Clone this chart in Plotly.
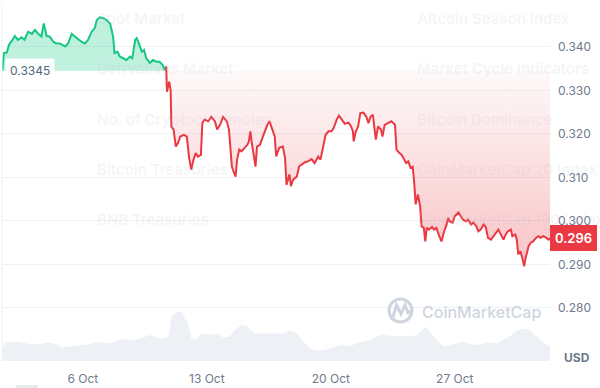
import numpy as np
import pandas as pd
import plotly.graph_objects as go

YEAR = "2025"

price_times = [
    "10-01 11", "10-01 13", "10-01 17", "10-01 20", "10-01 23", "10-02 04", "10-02 08", "10-02 13",
    "10-02 17", "10-02 22", "10-03 03", "10-03 07", "10-03 11", "10-03 16", "10-03 19", "10-03 23",
    "10-04 03", "10-04 08", "10-04 12", "10-04 17", "10-05 00", "10-05 04", "10-05 09", "10-05 13",
    "10-05 18", "10-05 22", "10-06 03", "10-06 07", "10-06 12", "10-06 16", "10-06 19", "10-06 23",
    "10-07 04", "10-07 08", "10-07 13", "10-07 17", "10-07 19", "10-07 23", "10-08 02", "10-08 07",
    "10-08 11", "10-08 16", "10-08 19", "10-08 23", "10-09 01", "10-09 04", "10-09 08", "10-09 11",
    "10-09 14", "10-09 19", "10-09 23", "10-10 04", "10-10 08", "10-10 12", "10-10 15", "10-10 17",
    "10-10 18", "10-10 21", "10-10 23", "10-11 00", "10-11 03", "10-11 06", "10-11 09", "10-11 12",
    "10-11 17", "10-11 21", "10-12 00", "10-12 03", "10-12 06", "10-12 09", "10-12 12", "10-12 16",
    "10-12 18", "10-12 21", "10-13 02", "10-13 06", "10-13 11", "10-13 14", "10-13 18", "10-13 22",
    "10-14 03", "10-14 06", "10-14 10", "10-14 13", "10-14 15", "10-14 17", "10-14 20", "10-14 23",
    "10-15 04", "10-15 07", "10-15 09", "10-15 11", "10-15 13", "10-15 16", "10-15 18", "10-15 20",
    "10-16 00", "10-16 04", "10-16 07", "10-16 10", "10-16 13", "10-16 17", "10-16 20", "10-16 22",
    "10-17 02", "10-17 07", "10-17 10", "10-17 12", "10-17 16", "10-17 18", "10-17 21", "10-18 02",
    "10-18 05", "10-18 08", "10-18 13", "10-18 17", "10-18 22", "10-19 02", "10-19 07", "10-19 10",
    "10-19 14", "10-19 17", "10-19 21", "10-20 01", "10-20 04", "10-20 08", "10-20 11", "10-20 15",
    "10-20 19", "10-21 00", "10-21 03", "10-21 06", "10-21 07", "10-21 10", "10-21 13", "10-21 16",
    "10-21 20", "10-22 00", "10-22 03", "10-22 06", "10-22 09", "10-22 13", "10-22 16", "10-22 20",
    "10-22 22", "10-23 01", "10-23 06", "10-23 10", "10-23 15", "10-23 17", "10-23 21", "10-24 00",
    "10-24 06", "10-24 09", "10-24 12", "10-24 15", "10-24 17", "10-24 19", "10-24 22", "10-25 01",
    "10-25 03", "10-25 06", "10-25 08", "10-25 10", "10-25 13", "10-25 17", "10-25 20", "10-25 23",
    "10-26 03", "10-26 06", "10-26 09", "10-26 13", "10-26 15", "10-26 17", "10-26 21", "10-27 00",
    "10-27 05", "10-27 08", "10-27 11", "10-27 15", "10-27 18", "10-27 22", "10-28 01", "10-28 05",
    "10-28 08", "10-28 11", "10-28 15", "10-28 18", "10-28 21", "10-29 01", "10-29 04", "10-29 08",
    "10-29 11", "10-29 14", "10-29 18", "10-29 21", "10-30 00", "10-30 04", "10-30 06", "10-30 10",
    "10-30 12", "10-30 14", "10-30 17", "10-30 20", "10-30 22", "10-31 00", "10-31 04", "10-31 07",
    "10-31 10", "10-31 14", "10-31 17", "10-31 20", "11-01 00", "11-01 04", "11-01 07", "11-01 09",
]

prices = [
    0.3345, 0.3386, 0.3387, 0.3405, 0.3412, 0.3425, 0.3416, 0.3422,
    0.3416, 0.3435, 0.3430, 0.3439, 0.3431, 0.3424, 0.3454, 0.3425,
    0.3424, 0.3412, 0.3408, 0.3408, 0.3401, 0.3408, 0.3430, 0.3424,
    0.3416, 0.3412, 0.3408, 0.3416, 0.3435, 0.3443, 0.3462, 0.3468,
    0.3466, 0.3462, 0.3454, 0.3424, 0.3386, 0.3389, 0.3378, 0.3374,
    0.3370, 0.3378, 0.3374, 0.3416, 0.3420, 0.3408, 0.3389, 0.3393,
    0.3374, 0.3363, 0.3370, 0.3366, 0.3366, 0.3359, 0.3347, 0.3355,
    0.3297, 0.3320, 0.3301, 0.3217, 0.3210, 0.3171, 0.3179, 0.3194,
    0.3198, 0.3194, 0.3145, 0.3118, 0.3141, 0.3156, 0.3148, 0.3152,
    0.3225, 0.3233, 0.3229, 0.3239, 0.3229, 0.3210, 0.3221, 0.3239,
    0.3229, 0.3210, 0.3125, 0.3110, 0.3102, 0.3141, 0.3164, 0.3160,
    0.3171, 0.3175, 0.3183, 0.3206, 0.3179, 0.3148, 0.3125, 0.3171,
    0.3175, 0.3194, 0.3210, 0.3221, 0.3229, 0.3206, 0.3194, 0.3148,
    0.3168, 0.3171, 0.3145, 0.3083, 0.3107, 0.3080, 0.3095, 0.3102,
    0.3125, 0.3129, 0.3135, 0.3137, 0.3142, 0.3133, 0.3148, 0.3141,
    0.3171, 0.3198, 0.3206, 0.3206, 0.3214, 0.3233, 0.3242, 0.3233,
    0.3223, 0.3226, 0.3219, 0.3206, 0.3183, 0.3206, 0.3217, 0.3248,
    0.3249, 0.3240, 0.3225, 0.3240, 0.3244, 0.3187, 0.3217, 0.3210,
    0.3194, 0.3221, 0.3225, 0.3229, 0.3221, 0.3164, 0.3156, 0.3152,
    0.3133, 0.3137, 0.3122, 0.3125, 0.3088, 0.3038, 0.3061, 0.3034,
    0.2988, 0.2984, 0.2953, 0.2984, 0.2980, 0.2986, 0.2980, 0.2984,
    0.2965, 0.2953, 0.2973, 0.2992, 0.3007, 0.2999, 0.2996, 0.3011,
    0.3019, 0.3011, 0.3003, 0.2999, 0.3003, 0.2992, 0.2996, 0.2988,
    0.2976, 0.2980, 0.2992, 0.2986, 0.2961, 0.2957, 0.2965, 0.2973,
    0.2980, 0.2969, 0.2957, 0.2969, 0.2976, 0.2980, 0.2965, 0.2969,
    0.2957, 0.2923, 0.2930, 0.2911, 0.2896, 0.2915, 0.2942, 0.2950,
    0.2953, 0.2961, 0.2965, 0.2961, 0.2965, 0.2961, 0.2957, 0.2960,
]

volume_times = [
    "10-01 11", "10-01 17", "10-02 02", "10-02 11", "10-02 20", "10-03 05", "10-03 14", "10-04 01",
    "10-04 12", "10-04 21", "10-05 06", "10-05 16", "10-06 00", "10-06 10", "10-06 19", "10-07 04",
    "10-07 13", "10-07 22", "10-08 07", "10-08 16", "10-09 01", "10-09 10", "10-09 19", "10-10 04",
    "10-10 13", "10-10 20", "10-11 00", "10-11 07", "10-11 14", "10-11 18", "10-11 23", "10-12 03",
    "10-12 10", "10-12 17", "10-13 00", "10-13 09", "10-13 15", "10-13 22", "10-14 07", "10-14 14",
    "10-14 23", "10-15 06", "10-15 13", "10-15 19", "10-16 04", "10-16 13", "10-16 22", "10-17 08",
    "10-17 17", "10-18 02", "10-18 11", "10-18 20", "10-19 05", "10-19 14", "10-19 23", "10-20 08",
    "10-20 17", "10-21 02", "10-21 11", "10-21 20", "10-22 05", "10-22 14", "10-22 23", "10-23 08",
    "10-23 17", "10-24 02", "10-24 11", "10-24 20", "10-25 03", "10-25 08", "10-25 12", "10-25 19",
    "10-26 02", "10-26 08", "10-26 17", "10-27 03", "10-27 11", "10-27 21", "10-28 06", "10-28 15",
    "10-29 00", "10-29 09", "10-29 18", "10-30 03", "10-30 12", "10-30 21", "10-31 04", "10-31 10",
    "10-31 17", "11-01 00", "11-01 09",
]

volumes_musd = [
    29, 37, 39, 37, 34, 33, 34, 37,
    34, 27, 29, 30, 32, 34, 37, 37,
    35, 41, 44, 41, 43, 47, 52, 47,
    45, 49, 89, 97, 99, 85, 75, 45,
    43, 55, 52, 53, 55, 47, 49, 62,
    72, 70, 59, 55, 55, 54, 55, 55,
    61, 55, 39, 25, 21, 22, 25, 30,
    32, 30, 35, 39, 41, 49, 52, 50,
    49, 50, 49, 52, 59, 69, 62, 52,
    39, 29, 32, 35, 39, 34, 32, 35,
    37, 35, 43, 50, 61, 65, 63, 55,
    45, 37, 29,
]

y_ticks = [0.280, 0.290, 0.300, 0.310, 0.320, 0.330, 0.340, 0.350]
y_tick_labels = ["0.280", "0.290", "0.300", "0.310", "0.320", "0.330", "0.340", ""]
x_tick_dates = ["2025-10-06", "2025-10-13", "2025-10-20", "2025-10-27"]
x_tick_labels = ["6 Oct", "13 Oct", "20 Oct", "27 Oct"]

menu_left = ["Spot Market", "Derivatives Market", "No. of Cryptocurrencies",
             "Bitcoin Treasuries", "BNB Treasuries"]
menu_right = ["Altcoin Season Index", "Market Cycle Indicators", "Bitcoin Dominance",
              "CoinMarketCap 20 Index", "CoinMarketCap 100 Index"]

GREEN = "#16c784"
RED = "#ea3943"
GRID = "#eff2f5"
TEXT = "#6f7a8d"


def to_dt(lst):
    return pd.to_datetime([f"{YEAR}-{s}:00" for s in lst])


t = to_dt(price_times)
p = np.array(prices)
base = p[0]
vt = to_dt(volume_times)
split = int(np.argmax(p < base))

fig = go.Figure()

# volume area
fig.add_trace(go.Scatter(x=vt, y=volumes_musd, yaxis="y2", mode="lines",
                         line=dict(width=0, color="#edf0f4"), fill="tozeroy",
                         fillcolor="#edf0f4", hoverinfo="skip"))

# green fill above baseline
fig.add_trace(go.Scatter(x=t, y=np.full(len(t), base), mode="lines",
                         line=dict(width=0), hoverinfo="skip"))
fig.add_trace(go.Scatter(x=t, y=np.maximum(p, base), mode="lines",
                         line=dict(width=0), fill="tonexty",
                         fillcolor="rgba(22,199,132,0.27)", hoverinfo="skip"))
# red gradient fill below baseline
fig.add_trace(go.Scatter(x=t, y=np.full(len(t), base), mode="lines",
                         line=dict(width=0), hoverinfo="skip"))
fig.add_trace(go.Scatter(x=t, y=np.minimum(p, base), mode="lines",
                         line=dict(width=0), fill="tonexty",
                         fillgradient=dict(type="vertical",
                                           colorscale=[[0, "rgba(234,57,67,0.30)"],
                                                       [1, "rgba(234,57,67,0.03)"]]),
                         hoverinfo="skip"))
# price line
fig.add_trace(go.Scatter(x=t[:split], y=p[:split], mode="lines",
                         line=dict(color=GREEN, width=2)))
fig.add_trace(go.Scatter(x=t[split - 1:], y=p[split - 1:], mode="lines",
                         line=dict(color=RED, width=2)))

annotations = []
# start price label
annotations.append(dict(x=0, xref="paper", y=base, yref="y", xanchor="left",
                        yanchor="middle", xshift=3, text=f"{base:.4f}", showarrow=False,
                        bgcolor="rgba(255,255,255,0.92)", borderpad=4,
                        font=dict(size=12, color="#58667e", family="Inter")))
# current price label
annotations.append(dict(x=1, xref="paper", y=p[-1], yref="y", xanchor="left",
                        yanchor="middle", xshift=0, text=f"{p[-1]:.3f}", showarrow=False,
                        bgcolor=RED, borderpad=5, borderwidth=0,
                        font=dict(size=13, color="white", family="Inter", weight=600)))
# USD
annotations.append(dict(x=1, xref="paper", y=(361 - 357) / 358, yref="paper",
                        xanchor="left", yanchor="middle", xshift=12, text="USD",
                        showarrow=False,
                        font=dict(size=12, color="#6f7a8d", family="Inter", weight=700)))
# watermark
annotations.append(dict(x=(420 - 2) / 548, xref="paper", y=(361 - 312) / 358,
                        yref="paper", xanchor="left", yanchor="middle",
                        text="CoinMarketCap", showarrow=False,
                        font=dict(size=16, color="#cfd5de", family="Inter", weight=500)))
# faint menu text
for i, (lt, rt) in enumerate(zip(menu_left, menu_right)):
    yc = (361 - (19 + 50 * i)) / 358
    for txt, px in ((lt, 95), (rt, 415)):
        annotations.append(dict(x=(px - 2) / 548, xref="paper", y=yc, yref="paper",
                                xanchor="left", yanchor="middle", text=txt,
                                showarrow=False,
                                font=dict(size=15, color="rgba(190,196,206,0.18)",
                                          family="Inter", weight=600)))


def px_x(v):
    return (v - 2) / 548


def px_y(v):
    return (361 - v) / 358


shapes = [
    dict(type="line", xref="paper", yref="paper", x0=0, x1=0, y0=0, y1=1,
         line=dict(color=GRID, width=1)),
    dict(type="circle", xref="paper", yref="paper", x0=px_x(389), x1=px_x(412),
         y0=px_y(322), y1=px_y(299), line=dict(color="#cfd5de", width=3)),
    dict(type="path", xref="paper", yref="paper",
         path=(f"M {px_x(393)},{px_y(317)} L {px_x(396.5)},{px_y(305)} "
               f"L {px_x(401)},{px_y(314)} L {px_x(405)},{px_y(305)} "
               f"L {px_x(408)},{px_y(313)} L {px_x(411)},{px_y(311)}"),
         line=dict(color="#cfd5de", width=3)),
    dict(type="rect", xref="paper", yref="paper", x0=px_x(16), x1=px_x(38),
         y0=px_y(390), y1=px_y(385), line=dict(width=0), fillcolor="#e6e9ee"),
]

fig.update_layout(
    width=600, height=388,
    margin=dict(l=2, r=50, t=3, b=27),
    paper_bgcolor="white", plot_bgcolor="white",
    showlegend=False,
    font=dict(family="Inter", color=TEXT, size=12),
    xaxis=dict(type="date", range=["2025-10-01 10:30", "2025-11-01 09:00"],
               tickvals=x_tick_dates, ticktext=x_tick_labels,
               showgrid=False, zeroline=False, showline=False, ticks="",
               ticklabelstandoff=9, tickfont=dict(size=12, color=TEXT)),
    yaxis=dict(range=[0.2678, 0.3501], side="right", tickvals=y_ticks,
               ticktext=y_tick_labels, showgrid=True, gridcolor=GRID, gridwidth=1,
               zeroline=False, showline=False, ticks="", ticklabelstandoff=7,
               tickfont=dict(size=12, color=TEXT)),
    yaxis2=dict(overlaying="y", range=[0, 716], visible=False),
    annotations=annotations,
    shapes=shapes,
)

fig.write_html("out.html",
               config={"displayModeBar": False},
               post_script="document.body.style.margin='0';document.body.style.overflow='hidden';")
